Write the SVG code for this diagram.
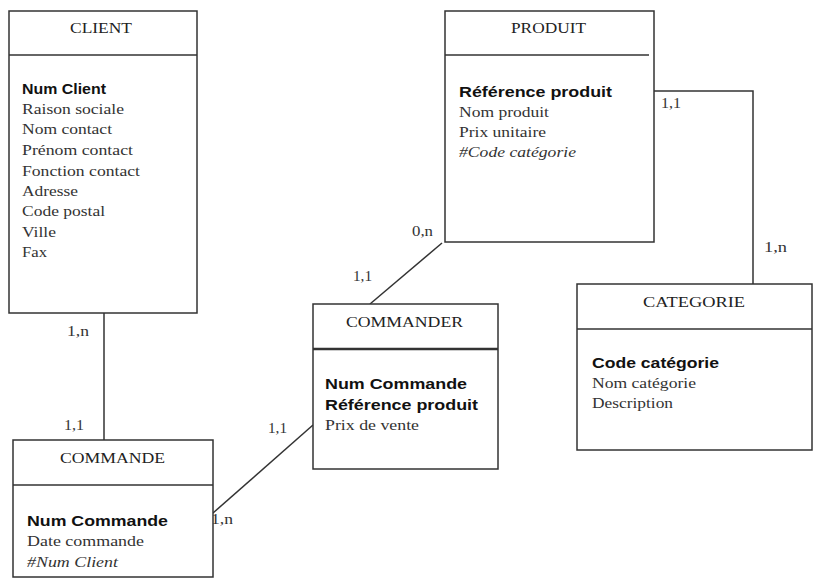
<svg xmlns="http://www.w3.org/2000/svg" width="822" height="581" viewBox="0 0 822 581">
<style>
.box{fill:#fff;stroke:#333;stroke-width:1.5}
.sep{stroke:#333;stroke-width:1.5}
.con{stroke:#333;stroke-width:1.5;fill:none}
.t{font-family:"Liberation Serif","Times New Roman",serif;font-size:15px;fill:#333}
.it{font-family:"Liberation Serif","Times New Roman",serif;font-size:15px;font-style:italic;fill:#333}
.b{font-family:"Liberation Sans",Arial,sans-serif;font-size:15px;font-weight:bold;fill:#111}
.h{font-family:"Liberation Serif","Times New Roman",serif;font-size:15px;fill:#222}
.lbl{font-family:"Liberation Serif","Times New Roman",serif;font-size:15px;fill:#333}
</style>
<rect width="822" height="581" fill="#fff"/>
<g id="connectors">
<line class="con" x1="104" y1="313" x2="104" y2="440"/>
<line class="con" x1="213" y1="513" x2="313" y2="425"/>
<line class="con" x1="442" y1="243" x2="370" y2="304"/>
<polyline class="con" points="654,91 753,91 753,284"/>
<text class="lbl" x="67" y="336" textLength="22" lengthAdjust="spacingAndGlyphs">1,n</text>
<text class="lbl" x="64" y="430" textLength="20" lengthAdjust="spacingAndGlyphs">1,1</text>
<text class="lbl" x="268" y="433" textLength="19" lengthAdjust="spacingAndGlyphs">1,1</text>
<text class="lbl" x="211" y="524" textLength="22" lengthAdjust="spacingAndGlyphs">1,n</text>
<text class="lbl" x="412" y="236" textLength="21" lengthAdjust="spacingAndGlyphs">0,n</text>
<text class="lbl" x="353" y="281" textLength="19" lengthAdjust="spacingAndGlyphs">1,1</text>
<text class="lbl" x="661" y="108" textLength="20" lengthAdjust="spacingAndGlyphs">1,1</text>
<text class="lbl" x="764" y="252" textLength="23" lengthAdjust="spacingAndGlyphs">1,n</text>
</g>
<g id="client">
<rect class="box" x="9" y="11" width="188" height="302"/>
<line class="sep" x1="9" y1="55" x2="197" y2="55"/>
<text class="h" x="70" y="33" textLength="62" lengthAdjust="spacingAndGlyphs">CLIENT</text>
<text class="b" x="22" y="94" textLength="84" lengthAdjust="spacingAndGlyphs">Num Client</text>
<text class="t" x="22" y="114" textLength="102" lengthAdjust="spacingAndGlyphs">Raison sociale</text>
<text class="t" x="22" y="134" textLength="90" lengthAdjust="spacingAndGlyphs">Nom contact</text>
<text class="t" x="22" y="155" textLength="111" lengthAdjust="spacingAndGlyphs">Prénom contact</text>
<text class="t" x="22" y="176" textLength="118" lengthAdjust="spacingAndGlyphs">Fonction contact</text>
<text class="t" x="22" y="196" textLength="56" lengthAdjust="spacingAndGlyphs">Adresse</text>
<text class="t" x="22" y="216" textLength="83" lengthAdjust="spacingAndGlyphs">Code postal</text>
<text class="t" x="22" y="237" textLength="34" lengthAdjust="spacingAndGlyphs">Ville</text>
<text class="t" x="22" y="257" textLength="25" lengthAdjust="spacingAndGlyphs">Fax</text>
</g>
<g id="produit">
<rect class="box" x="445" y="11" width="209" height="231"/>
<line class="sep" x1="445" y1="55" x2="649" y2="55"/>
<text class="h" x="511" y="33" textLength="75" lengthAdjust="spacingAndGlyphs">PRODUIT</text>
<text class="b" x="459" y="97" textLength="153" lengthAdjust="spacingAndGlyphs">Référence produit</text>
<text class="t" x="459" y="117" textLength="90" lengthAdjust="spacingAndGlyphs">Nom produit</text>
<text class="t" x="459" y="137" textLength="87" lengthAdjust="spacingAndGlyphs">Prix unitaire</text>
<text class="it" x="459" y="157" textLength="117" lengthAdjust="spacingAndGlyphs">#Code catégorie</text>
</g>
<g id="commander">
<rect class="box" x="313" y="304" width="185" height="165"/>
<line class="sep" x1="313" y1="349" x2="498" y2="349" style="stroke-width:2.6"/>
<text class="h" x="346" y="327" textLength="117" lengthAdjust="spacingAndGlyphs">COMMANDER</text>
<text class="b" x="325" y="389" textLength="142" lengthAdjust="spacingAndGlyphs">Num Commande</text>
<text class="b" x="325" y="410" textLength="153" lengthAdjust="spacingAndGlyphs">Référence produit</text>
<text class="t" x="325" y="430" textLength="94" lengthAdjust="spacingAndGlyphs">Prix de vente</text>
</g>
<g id="commande">
<rect class="box" x="13" y="440" width="200" height="137"/>
<line class="sep" x1="13" y1="485" x2="213" y2="485"/>
<text class="h" x="60" y="463" textLength="105" lengthAdjust="spacingAndGlyphs">COMMANDE</text>
<text class="b" x="27" y="526" textLength="141" lengthAdjust="spacingAndGlyphs">Num Commande</text>
<text class="t" x="27" y="546" textLength="117" lengthAdjust="spacingAndGlyphs">Date commande</text>
<text class="it" x="27" y="567" textLength="91" lengthAdjust="spacingAndGlyphs">#Num Client</text>
</g>
<g id="categorie">
<rect class="box" x="577" y="284" width="235" height="166"/>
<line class="sep" x1="577" y1="329" x2="812" y2="329"/>
<text class="h" x="643" y="307" textLength="102" lengthAdjust="spacingAndGlyphs">CATEGORIE</text>
<text class="b" x="592" y="368" textLength="127" lengthAdjust="spacingAndGlyphs">Code catégorie</text>
<text class="t" x="592" y="388" textLength="104" lengthAdjust="spacingAndGlyphs">Nom catégorie</text>
<text class="t" x="592" y="408" textLength="81" lengthAdjust="spacingAndGlyphs">Description</text>
</g>
</svg>
